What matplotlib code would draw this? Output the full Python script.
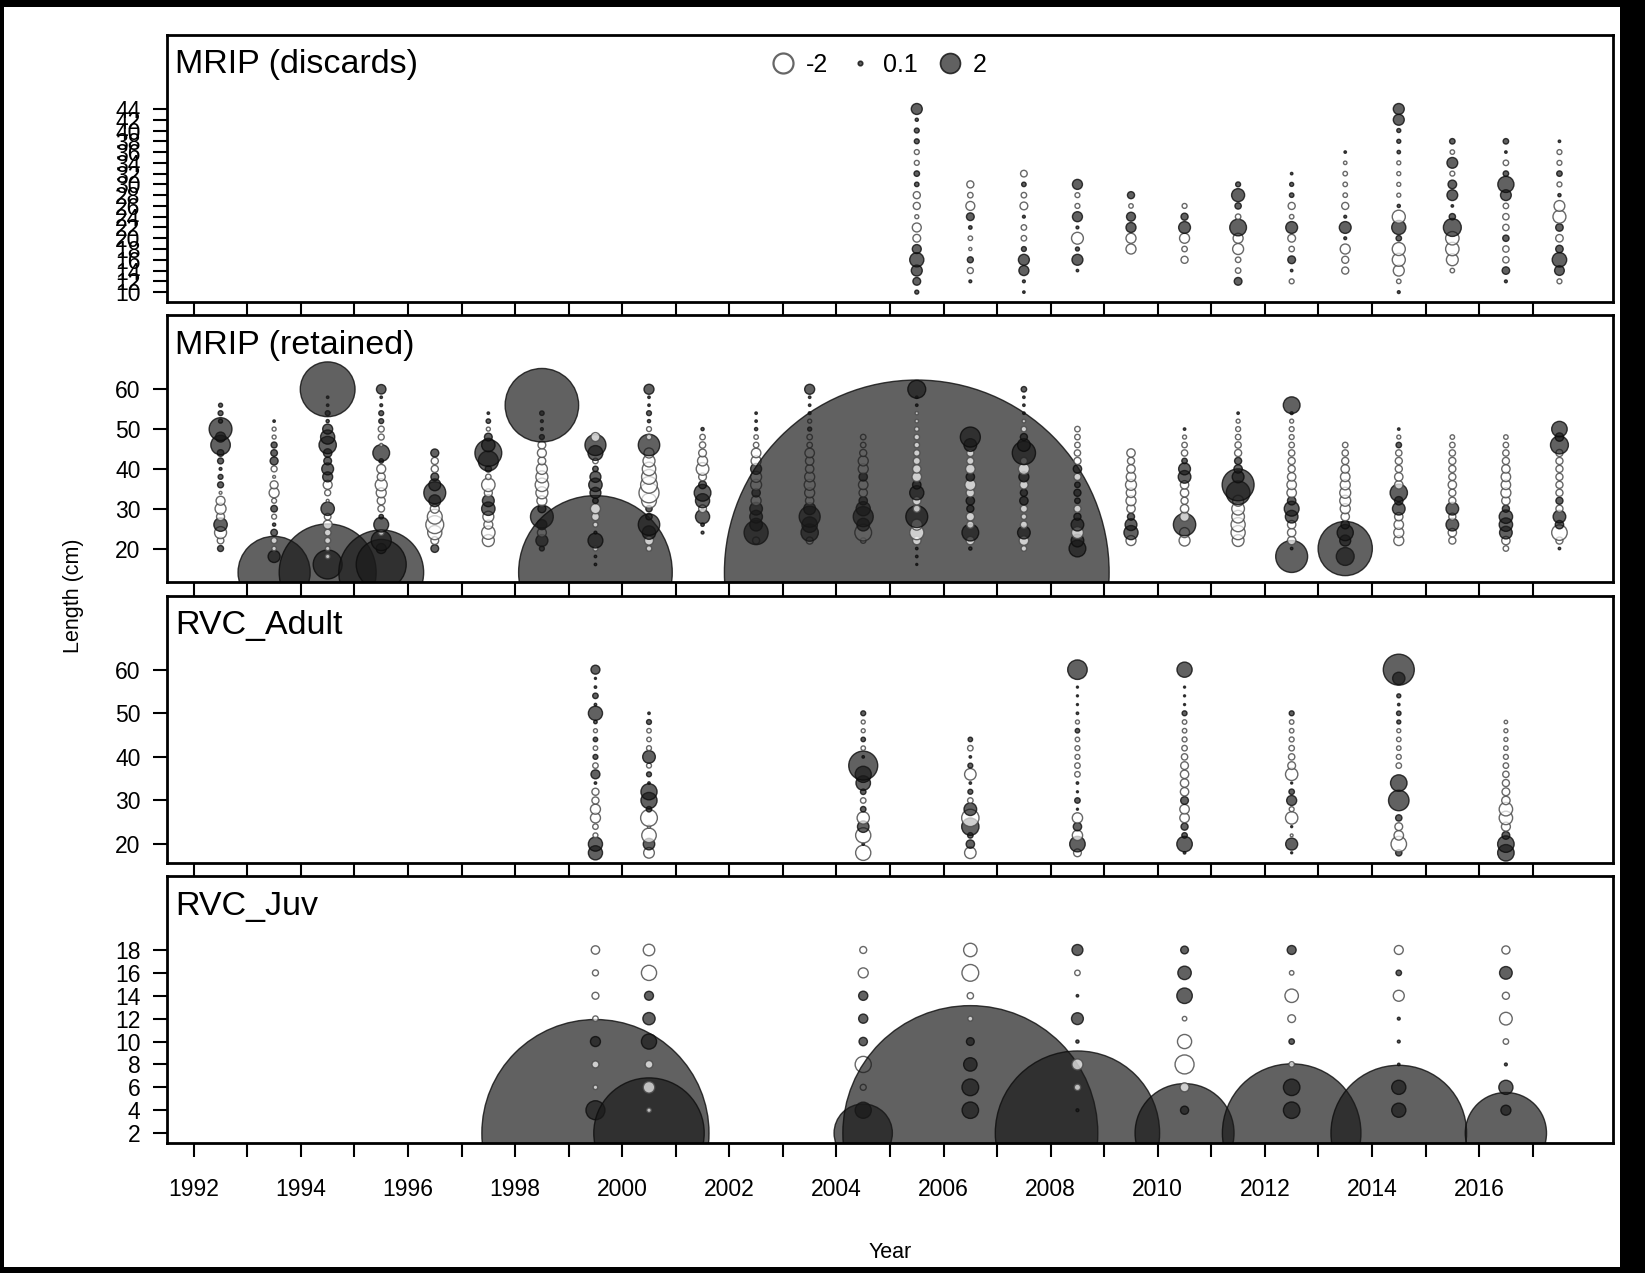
import numpy as np
import matplotlib
matplotlib.use('Agg')
import matplotlib.pyplot as plt
from matplotlib.lines import Line2D
from matplotlib.patches import Rectangle

plt.rcParams['font.family'] = ['Liberation Sans', 'DejaVu Sans']

# Pearson residuals of the length compositions, one list per year,
# ordered from the largest length bin down to the smallest (0 = no obs)

discards_years = [2005.5, 2006.5, 2007.5, 2008.5, 2009.5, 2010.5, 2011.5,
                  2012.5, 2013.5, 2014.5, 2015.5, 2016.5, 2017.5]
discards_len = [44, 42, 40, 38, 36, 34, 32, 30, 28, 26, 24, 22, 20, 18, 16, 14, 12, 10]
discards_resid = [
    [0.6, 0.05, 0.12, 0.12, -0.12, -0.12, 0.15, 0.1, -0.25, -0.25, -0.08, -0.4, -0.3, 0.4, 1.0, 0.6, 0.3, 0.08],
    [0, 0, 0, 0, 0, 0, 0, -0.25, -0.15, -0.4, 0.3, 0.06, -0.1, -0.05, 0.18, -0.18, 0.04, 0],
    [0, 0, 0, 0, 0, 0, -0.22, 0.1, -0.15, -0.3, 0.04, -0.15, -0.15, 0.12, 0.6, 0.5, 0.04, 0.03],
    [0, 0, 0, 0, 0, 0, 0, 0.5, -0.12, -0.12, 0.5, 0.04, -0.7, 0.08, 0.6, 0.03, 0, 0],
    [0, 0, 0, 0, 0, 0, 0, 0, 0.25, -0.1, 0.4, 0.5, -0.5, -0.5, 0, 0, 0, 0],
    [0, 0, 0, 0, 0, 0, 0, 0, 0, -0.12, 0.25, 0.7, -0.5, -0.15, -0.25, 0, 0, 0],
    [0, 0, 0, 0, 0, 0, 0, 0.12, 0.85, 0.2, -0.15, 1.4, -0.5, -0.6, -0.15, -0.15, 0.3, 0],
    [0, 0, 0, 0, 0, 0, 0.03, 0.08, 0.1, -0.25, -0.1, 0.7, -0.3, -0.15, 0.3, 0.03, -0.12, 0],
    [0, 0, 0, 0, 0.03, -0.06, -0.1, -0.1, -0.1, -0.25, 0.04, 0.7, 0.04, -0.5, -0.25, -0.25, 0, 0],
    [0.6, 0.6, 0.08, 0.08, 0.06, -0.08, -0.08, -0.08, -0.08, 0.05, -0.85, 1.0, 0.15, -0.85, -0.85, -0.6, -0.1, 0.04],
    [0, 0, 0, 0.15, -0.1, 0.58, -0.12, 0.37, 0.58, 0.03, 0.2, 1.6, -0.9, -0.9, -0.7, -0.1, 0, 0],
    [0, 0, 0, 0.15, 0.03, -0.15, 0.15, 1.3, 0.58, -0.15, -0.2, -0.2, 0.2, -0.2, -0.2, 0.28, 0.04, 0],
    [0, 0, 0, 0.03, -0.12, -0.12, 0.15, -0.12, 0.05, -0.58, -0.84, 0.28, -0.28, 0.28, 1.05, 0.47, -0.12, 0],
]

retained_years = [1992.5, 1993.5, 1994.5, 1995.5, 1996.5, 1997.5, 1998.5, 1999.5,
                  2000.5, 2001.5, 2002.5, 2003.5, 2004.5, 2005.5, 2006.5, 2007.5,
                  2008.5, 2009.5, 2010.5, 2011.5, 2012.5, 2013.5, 2014.5, 2015.5,
                  2016.5, 2017.5]
retained_len = [60, 58, 56, 54, 52, 50, 48, 46, 44, 42, 40, 38, 36, 34, 32, 30,
                28, 26, 24, 22, 20, 18, 16, 14]
retained_resid = [
    [0, 0, 0.08, 0.12, 0.08, 2.6, 0.5, 1.9, 0.22, 0.18, 0.04, 0.12, 0.18, -0.04, -0.4, -0.6, -0.32, 0.9, -0.72, -0.22, 0.18, 0, 0, 0],
    [0, 0, 0, 0, 0.03, -0.08, -0.08, 0.18, 0.22, 0.32, -0.18, -0.04, -0.32, -0.5, -0.12, 0.22, -0.12, 0.05, 0.22, -0.18, -0.1, 0.72, 0, 26],
    [15, 0.03, 0.03, 0.12, 0.05, 0.5, 1.0, 1.5, 0.35, 0.3, 0.7, 0.5, -0.4, -0.18, -0.04, 0.9, -0.22, -0.4, -0.22, -0.18, -0.1, -0.1, 4.2, 47],
    [0.45, 0.03, 0.04, 0.12, 0.12, -0.18, -0.18, -0.05, 1.4, 0.1, -0.4, -0.32, -0.72, -0.5, -0.32, -0.22, 0.1, 1.1, -0.15, 2.0, 0.5, 0, 12.5, 36],
    [0, 0, 0, 0, 0, 0, 0, 0, 0.32, -0.25, -0.25, 0.3, 0.7, 2.4, 0.7, -0.4, -1.1, -1.6, -1.0, -0.3, 0.3, 0, 0, 0],
    [0, 0, 0, 0.03, 0.1, -0.08, 0.3, 0.9, 3.6, 2.0, 0.2, -0.15, -0.9, -0.32, 0.7, 0.9, -0.6, -0.4, -0.9, -0.72, 0, 0, 0, 0],
    [0, 0, 27, 0.1, 0.04, 0.04, 0.12, -0.3, -0.4, -0.3, -0.6, -0.72, -0.9, -0.72, -0.5, 0.32, 2.6, 0.5, -0.4, 0.72, 0.12, 0, 0, 0],
    [0, 0, 0, 0, 0, 0, -0.4, 2.2, 1.1, -0.15, 0.15, 0.6, 0.9, 0.6, 0.15, -0.5, -0.3, -0.12, 0.04, 1.1, -0.12, 0.03, 0.03, 118],
    [0.5, 0.03, 0.03, 0.12, 0.05, -0.12, -0.15, 2.3, -0.5, -0.72, -0.9, -1.1, -1.4, -2.0, -1.1, 0.2, 0.2, 2.3, 0.9, -0.4, -0.15, 0, 0, 0],
    [0, 0, 0, 0, 0, 0.05, -0.15, -0.2, -0.3, -0.5, -0.8, -0.3, 0.3, 1.4, 1.0, -0.3, 1.0, 0.06, 0.04, 0, 0, 0, 0, 0],
    [0, 0, 0, 0.03, 0.03, 0.05, -0.1, -0.15, -0.45, -0.5, 0.6, -0.6, -0.6, 0.35, -0.5, 0.8, 0.8, 0.8, 2.9, -0.25, 0, 0, 0, 0],
    [0.5, 0.03, 0.03, 0.04, -0.08, 0.08, -0.15, -0.15, -0.45, -0.35, -0.35, -0.5, -0.6, -0.5, -0.35, 0.7, 2.2, 1.2, 1.5, -0.25, 0, 0, 0, 0],
    [0, 0, 0, 0, 0, 0, -0.15, -0.15, -0.25, -0.5, -0.5, 0.35, -0.45, -0.35, 0.35, 1.0, 2.0, 0.8, -1.4, -0.15, 0, 0, 0, 0],
    [1.6, 0.03, 0.03, -0.05, -0.06, -0.1, -0.15, -0.15, -0.2, -0.25, -0.35, -0.45, 0.35, 1.0, -0.35, -0.25, 2.4, -0.6, -1.0, -0.35, 0.03, 0.03, 0.02, 740],
    [0, 0, 0, 0, 0, 0, 2.0, 0.8, -0.25, -0.25, -0.45, 0.35, -0.6, -0.35, 0.35, 0.25, -0.35, -0.25, 1.4, -0.35, 0.05, 0, 0, 0],
    [0.15, 0.03, 0.03, 0.03, -0.06, -0.15, 0.25, 0.8, 2.7, -0.25, -0.6, 0.5, -0.35, 0.25, 0.35, -0.25, -0.15, -0.25, 0.8, -0.45, -0.15, 0, 0, 0],
    [0, 0, 0, 0, 0, -0.15, -0.15, -0.15, -0.2, -0.25, 0.35, -0.25, 0.15, 0.25, 0.15, -0.25, 0.25, 0.8, -0.7, 0.8, 1.4, 0, 0, 0],
    [0, 0, 0, 0, 0, 0, 0, 0, -0.35, -0.25, -0.35, -0.45, -0.6, -0.45, -0.5, -0.35, 0.25, 0.7, 1.0, -0.5, 0, 0, 0, 0],
    [0, 0, 0, 0, 0, 0.03, -0.08, -0.15, -0.2, 0.15, 0.7, 0.8, -0.35, -0.35, -0.25, -0.35, -0.45, 2.5, -0.5, -0.6, 0, 0, 0, 0],
    [0, 0, 0, 0.03, -0.08, -0.12, -0.15, -0.2, -0.25, 0.25, 0.35, 0.7, 5.1, 2.8, -0.6, -0.8, -0.8, -1.0, -1.0, -0.7, 0, 0, 0, 0],
    [0, 0, 1.4, 0.04, -0.08, -0.12, -0.12, -0.15, -0.2, -0.25, -0.25, -0.35, -0.45, -0.45, 0.35, 1.1, 0.8, -0.35, -0.35, -0.35, 0.03, 5.1, 0, 0],
    [0, 0, 0, 0, 0, 0, 0, -0.15, -0.2, -0.25, -0.35, -0.45, -0.5, -0.6, -0.6, -0.5, -0.35, 0.35, 1.3, 0.6, 14.7, 1.6, 0, 0],
    [0, 0, 0, 0, 0, 0.03, -0.08, 0.15, -0.2, -0.25, -0.25, -0.35, -0.35, 1.5, 0.35, 0.8, -0.35, -0.45, -0.5, -0.5, 0, 0, 0, 0],
    [0, 0, 0, 0, 0, 0, -0.1, -0.15, -0.2, -0.25, -0.25, -0.25, -0.35, -0.25, -0.25, 0.8, -0.25, 0.8, -0.35, -0.25, 0, 0, 0, 0],
    [0, 0, 0, 0, 0, 0, -0.1, -0.15, -0.2, -0.25, -0.35, -0.45, -0.45, -0.5, -0.35, 0.25, 0.9, 0.9, 0.8, -0.35, -0.15, 0, 0, 0],
    [0, 0, 0, 0, 0, 1.2, 0.35, 1.6, -0.25, -0.25, -0.25, -0.25, -0.25, -0.25, 0.25, -0.25, 0.8, 0.35, -1.2, -0.25, 0.03, 0, 0, 0],
]

rvc_years = [1999.5, 2000.5, 2004.5, 2006.5, 2008.5, 2010.5, 2012.5, 2014.5, 2016.5]

adult_len = [60, 58, 56, 54, 52, 50, 48, 46, 44, 42, 40, 38, 36, 34, 32, 30, 28, 26, 24, 22, 20, 18]
adult_resid = [
    [0.4, 0.02, 0.03, 0.15, 0.03, 1.0, 0.06, -0.08, 0.1, -0.1, 0.12, -0.15, 0.4, 0.03, -0.25, -0.25, -0.5, -0.5, -0.15, -0.12, 1.0, 1.0],
    [0, 0, 0, 0, 0, 0.03, 0.12, -0.1, -0.1, -0.12, 0.8, -0.12, 0.12, 0.03, 1.3, 1.3, 0.15, -1.4, -0.05, -1.05, 0.66, -0.57],
    [0, 0, 0, 0, 0, 0.12, -0.08, -0.08, 0.1, -0.1, 0.03, 4.2, 1.3, 1.05, 0.15, -0.15, 0.15, -0.75, 0.66, -1.15, 0.03, -1.15],
    [0, 0, 0, 0, 0, 0, 0, 0, 0.1, -0.15, 0.03, 0.12, -0.66, 0.03, 0.12, -0.15, 0.8, -1.5, 1.5, 0.15, 0.35, -0.66],
    [1.9, 0, 0.02, 0.02, 0.02, 0.03, -0.08, 0.1, -0.1, -0.12, -0.12, -0.15, -0.15, 0.03, 0.02, 0.15, 0.02, -0.53, 0.35, -0.53, 1.2, -0.3],
    [1.15, 0, 0.02, 0.02, 0.02, 0.12, -0.1, -0.1, -0.12, -0.15, -0.2, -0.3, -0.35, -0.35, -0.35, 0.3, -0.45, -0.45, 0.25, 0.15, 1.2, 0.03],
    [0, 0, 0, 0, 0, 0.12, -0.1, -0.1, -0.12, -0.15, -0.2, -0.3, -0.76, 0.02, 0.15, 0.5, -0.12, -0.76, 0.02, -0.04, 0.72, 0.02],
    [4.8, 0.76, 0, 0.08, 0.03, 0.1, 0.08, -0.08, -0.1, -0.1, -0.12, -0.15, 0, 1.36, 0, 2.1, 0, 0.2, -0.3, -0.45, -1.2, 0.2],
    [0, 0, 0, 0, 0, 0, -0.06, -0.08, -0.08, -0.1, -0.12, -0.15, -0.2, -0.25, -0.3, -0.35, -0.9, -0.9, -0.4, 0.3, 1.36, 1.36],
]

juv_len = [18, 16, 14, 12, 10, 8, 6, 4, 2]
juv_resid = [
    [-0.35, -0.18, -0.24, -0.15, 0.5, -0.24, -0.1, 1.8, 258],
    [-0.66, -1.15, 0.4, 0.75, 1.15, -0.3, -0.66, -0.1, 61],
    [-0.24, -0.5, 0.42, 0.42, 0.35, -1.3, -0.18, 1.3, 17],
    [-0.9, -1.4, -0.2, -0.12, 0.3, 0.9, 1.4, 1.35, 325],
    [0.6, -0.15, 0.03, 0.7, 0.05, -0.6, -0.2, 0.04, 135],
    [0.3, 0.9, 1.2, -0.1, -1.0, -1.8, -0.4, 0.33, 49],
    [0.4, -0.1, -0.9, -0.3, 0.15, -0.15, 1.36, 1.36, 96],
    [-0.4, 0.15, -0.6, 0.04, 0.04, 0.03, 1.0, 1.0, 92],
    [-0.33, 0.8, -0.25, -0.8, -0.15, 0.04, 1.0, 0.5, 33],
]

panel_titles = ['MRIP (discards)', 'MRIP (retained)', 'RVC_Adult', 'RVC_Juv']
legend_values = [-2, 0.1, 2]
year_ticks = list(range(1992, 2018))

# bubble styling
S_PER_UNIT = 103.7          # marker area (pt^2) per unit |residual|
POS_FACE = (0.1, 0.1, 0.1, 0.69)
POS_EDGE = (0.05, 0.05, 0.05, 0.8)
NEG_FACE = (1.0, 1.0, 1.0, 0.7)
NEG_EDGE = (0.3, 0.3, 0.3, 0.85)

W, H = 1645, 1273
fig = plt.figure(figsize=(W / 100, H / 100), dpi=100)
fig.patch.set_facecolor('black')
fig.add_artist(Rectangle((4 / W, 6 / H), 1616 / W, 1260 / H, transform=fig.transFigure,
                         facecolor='white', edgecolor='none', zorder=-5))

left, width = 167 / W, 1446 / W
panel_h = 267
tops = [35, 315.3, 595.7, 876]


def bubbles(ax, years, lens, resid):
    xs, ys, zs = [], [], []
    for yr, col in zip(years, resid):
        # smallest bins first, so the upper bins sit on top
        for L, z in zip(lens[::-1], col[::-1]):
            if z != 0:
                xs.append(yr)
                ys.append(L)
                zs.append(z)
    zs = np.array(zs)
    face = [POS_FACE if z > 0 else NEG_FACE for z in zs]
    edge = [POS_EDGE if z > 0 else NEG_EDGE for z in zs]
    ax.scatter(xs, ys, s=S_PER_UNIT * np.abs(zs), c=face, edgecolors=edge, linewidths=1.0)
    lo, hi = min(lens), max(lens)
    d = hi - lo
    pad = 0.04 * 1.35 * d
    ax.set_ylim(lo - pad, hi + 0.35 * d + pad)


panels = [
    (discards_years, discards_len, discards_resid, list(range(10, 46, 2))),
    (retained_years, retained_len, retained_resid, [20, 30, 40, 50, 60]),
    (rvc_years, adult_len, adult_resid, [20, 30, 40, 50, 60]),
    (rvc_years, juv_len, juv_resid, list(range(2, 20, 2))),
]

axes = []
for i, (yrs, lens, resid, yt) in enumerate(panels):
    ax = fig.add_axes([left, 1 - (tops[i] + panel_h) / H, width, panel_h / H])
    bubbles(ax, yrs, lens, resid)
    ax.set_xlim(1991.5, 2018.5)
    ax.set_xticks(year_ticks)
    ax.set_yticks(yt)
    ax.tick_params(axis='both', direction='out', length=10, width=1.5, labelsize=16.5)
    ax.tick_params(axis='y', pad=9)
    ax.tick_params(axis='x', pad=15)
    if i < 3:
        ax.set_xticklabels([])
    else:
        ax.set_xticklabels([str(y) if y % 2 == 0 else '' for y in year_ticks])
    for sp in ax.spines.values():
        sp.set_linewidth(2.0)
    ax.text(8 / 1446, 1 - 30 / panel_h, panel_titles[i], transform=ax.transAxes,
            ha='left', va='center', fontsize=24.5)
    axes.append(ax)

# size legend in the top panel
handles = []
for v in legend_values:
    ms = 14.4 * np.sqrt(abs(v) / 2)
    if v > 0:
        handles.append(Line2D([], [], ls='none', marker='o', markersize=ms,
                              markerfacecolor=POS_FACE, markeredgecolor=POS_EDGE, markeredgewidth=1.2))
    else:
        handles.append(Line2D([], [], ls='none', marker='o', markersize=ms,
                              markerfacecolor='white', markeredgecolor=(0.4, 0.4, 0.4), markeredgewidth=1.6))
axes[0].legend(handles, [str(v) for v in legend_values], loc='center', ncol=3,
               bbox_to_anchor=(0.492, 1 - 30 / panel_h), frameon=False, fontsize=18,
               handlelength=1.0, handletextpad=0.4, columnspacing=0.8, borderpad=0)

fig.text(73 / W, 1 - 596 / H, 'Length (cm)', rotation=90, ha='center', va='center', fontsize=15.5)
fig.text(890 / W, 1 - 1252 / H, 'Year', ha='center', va='center', fontsize=15.5)

fig.savefig('out.png', dpi=100, facecolor='black')
